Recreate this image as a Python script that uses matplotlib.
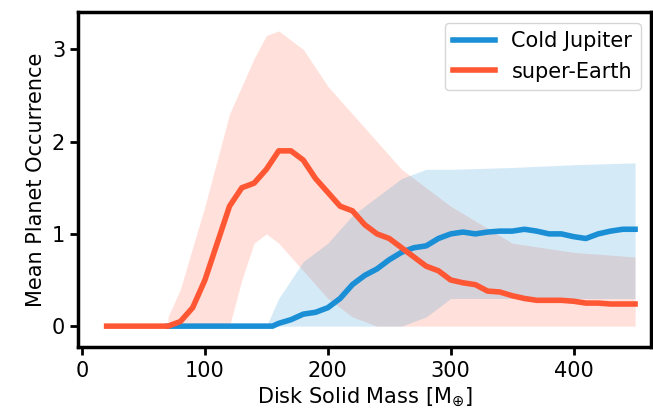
import matplotlib
matplotlib.use("Agg")
import matplotlib.pyplot as plt
import numpy as np

# super-Earth
se_x = [20, 70, 80, 90, 100, 110, 120, 130, 140, 150, 160, 170, 180, 190, 200, 210, 220, 230, 240,
        250, 260, 270, 280, 290, 300, 310, 320, 330, 340, 350, 360, 370, 380, 390, 400, 410, 420, 430, 450]
se_y = [0, 0, 0.05, 0.2, 0.5, 0.9, 1.3, 1.5, 1.55, 1.7, 1.9, 1.9, 1.8, 1.6, 1.45, 1.3, 1.25, 1.1, 1.0,
        0.95, 0.85, 0.75, 0.65, 0.6, 0.5, 0.47, 0.45, 0.38, 0.37, 0.33, 0.3, 0.28, 0.28, 0.28, 0.27, 0.25, 0.25, 0.24, 0.24]
se_bx = [70, 80, 100, 120, 130, 140, 150, 160, 170, 180, 190, 200, 220, 240, 260, 280, 300, 350, 400, 450]
se_hi = [0.1, 0.4, 1.3, 2.3, 2.6, 2.9, 3.15, 3.2, 3.1, 3.0, 2.8, 2.6, 2.3, 2.0, 1.7, 1.5, 1.3, 0.9, 0.8, 0.75]
se_lo = [0, 0, 0, 0, 0.5, 0.9, 1.0, 0.9, 0.75, 0.6, 0.45, 0.3, 0.1, 0, 0, 0, 0, 0, 0, 0]

# Cold Jupiter
cj_x = [70, 155, 160, 170, 180, 190, 200, 210, 220, 230, 240, 250, 260, 270, 280, 290, 300, 310, 320,
        330, 340, 350, 360, 370, 380, 390, 400, 410, 420, 430, 440, 450]
cj_y = [0, 0, 0.03, 0.07, 0.13, 0.15, 0.2, 0.3, 0.45, 0.55, 0.62, 0.72, 0.8, 0.85, 0.87, 0.95, 1.0, 1.02, 1.0,
        1.02, 1.03, 1.03, 1.05, 1.03, 1.0, 1.0, 0.97, 0.95, 1.0, 1.03, 1.05, 1.05]
cj_bx = [150, 160, 170, 180, 200, 220, 240, 260, 280, 300, 350, 400, 450]
cj_hi = [0, 0.3, 0.5, 0.7, 0.9, 1.2, 1.4, 1.6, 1.7, 1.7, 1.72, 1.75, 1.77]
cj_lo = [0, 0, 0, 0, 0, 0, 0, 0, 0.1, 0.3, 0.3, 0.3, 0.3]

blue = "#1a8fd6"
red = "#ff5733"

plt.rcParams["font.size"] = 15
fig, ax = plt.subplots(figsize=(6.53, 4.16), dpi=100)
ax.fill_between(se_bx, se_lo, se_hi, color=red, alpha=0.18, linewidth=0)
ax.fill_between(cj_bx, cj_lo, cj_hi, color=blue, alpha=0.18, linewidth=0)
ax.plot(cj_x, cj_y, color=blue, lw=4, label="Cold Jupiter")
ax.plot(se_x, se_y, color=red, lw=4, label="super-Earth")
ax.set_xlim(-3, 463)
ax.set_ylim(-0.23, 3.4)
ax.set_xticks([0, 100, 200, 300, 400])
ax.set_yticks([0, 1, 2, 3])
ax.set_xlabel(r"Disk Solid Mass [M$_{\oplus}$]")
ax.set_ylabel("Mean Planet Occurrence")
for s in ax.spines.values():
    s.set_linewidth(2.5)
ax.tick_params(width=2, length=6)
ax.legend(loc="upper right", fontsize=15)
fig.subplots_adjust(left=0.12, right=0.997, top=0.97, bottom=0.165)
fig.savefig("out.png")
